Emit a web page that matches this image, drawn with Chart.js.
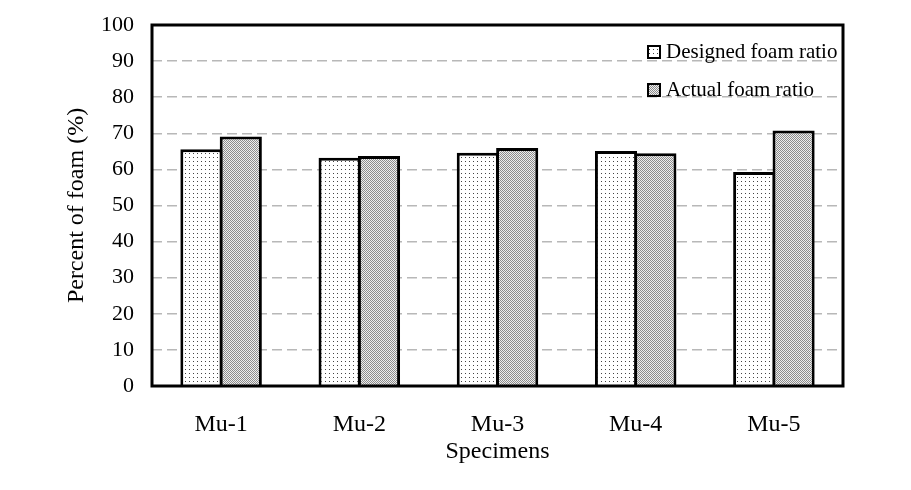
<!DOCTYPE html>
<html lang="en">
<head>
	<meta charset="UTF-8">
	<title>Foam ratio</title>
	<script src="https://cdn.jsdelivr.net/npm/chart.js"></script>
	<style>
		body { margin: 0; background: #fff; }
	</style>
</head>
<body>
	<canvas id="myChart" width="911" height="490"></canvas>

	<script>
		// data
		const specimens = ['Mu-1', 'Mu-2', 'Mu-3', 'Mu-4', 'Mu-5'];
		const designed = [65.6, 63.2, 64.6, 65.1, 59.3];
		const actual = [69.1, 63.7, 65.9, 64.5, 70.8];
		const seriesNames = ['Designed foam ratio', 'Actual foam ratio'];
		const yTicks = [0, 10, 20, 30, 40, 50, 60, 70, 80, 90, 100];

		const FAMILY = "'Liberation Serif', 'Times New Roman', serif";
		const ctx = document.getElementById('myChart');

		// fill patterns: sparse dots and dense gray stipple
		function dotPattern() {
			const c = document.createElement('canvas');
			c.width = 4; c.height = 4;
			const g = c.getContext('2d');
			g.fillStyle = '#fff';
			g.fillRect(0, 0, 4, 4);
			g.fillStyle = '#444';
			g.fillRect(1, 1, 1, 1);
			return ctx.getContext('2d').createPattern(c, 'repeat');
		}
		function grayPattern() {
			const c = document.createElement('canvas');
			c.width = 2; c.height = 2;
			const g = c.getContext('2d');
			g.fillStyle = '#eeeeee';
			g.fillRect(0, 0, 2, 2);
			g.fillStyle = '#8c8c8c';
			g.fillRect(0, 0, 1, 1);
			g.fillRect(1, 1, 1, 1);
			return ctx.getContext('2d').createPattern(c, 'repeat');
		}
		const fills = [dotPattern(), grayPattern()];

		// box round the plot and the legend inside it
		const framePlugin = {
			id: 'frame',
			afterDraw(chart) {
				const g = chart.ctx;
				const a = chart.chartArea;
				g.save();
				g.strokeStyle = '#000';
				g.lineWidth = 3;
				g.strokeRect(a.left, a.top, a.right - a.left, a.bottom - a.top);

				g.font = '21px ' + FAMILY;
				g.textBaseline = 'middle';
				seriesNames.forEach((name, i) => {
					const y = 52 + i * 38;
					g.fillStyle = fills[i];
					g.fillRect(648, y - 6, 12, 12);
					g.lineWidth = 2;
					g.strokeRect(648, y - 6, 12, 12);
					g.fillStyle = '#000';
					g.fillText(name, 666, y);
				});
				g.restore();
			}
		};

		new Chart(ctx, {
			type: 'bar',
			data: {
				labels: specimens,
				datasets: [{
					label: seriesNames[0],
					data: designed,
					backgroundColor: fills[0],
					borderColor: '#000',
					borderWidth: 3,
					categoryPercentage: 0.57,
					barPercentage: 1.07
				}, {
					label: seriesNames[1],
					data: actual,
					backgroundColor: fills[1],
					borderColor: '#000',
					borderWidth: 3,
					categoryPercentage: 0.57,
					barPercentage: 1.07
				}]
			},
			options: {
				responsive: false,
				animation: false,
				layout: { padding: { top: 25, right: 68, left: 0, bottom: 0 } },
				plugins: {
					legend: { display: false },
					tooltip: { enabled: false }
				},
				scales: {
					x: {
						afterFit(s) { s.height = 104; s.paddingLeft = 0; s.paddingRight = 0; },
						grid: { display: false, drawTicks: false },
						border: { display: false },
						ticks: { color: '#000', font: { family: FAMILY, size: 24 }, padding: 24 },
						title: {
							display: true, text: 'Specimens', color: '#000', font: { family: FAMILY, size: 24 },
							padding: { top: 0, bottom: 24 }
						}
					},
					y: {
						min: 0,
						max: 100,
						afterFit(s) { s.width = 152; s.paddingTop = 0; s.paddingBottom = 0; },
						afterBuildTicks(s) { s.ticks = yTicks.map(v => ({ value: v })); },
						grid: {
							drawTicks: false,
							color: c => (c.tick.value === 0 || c.tick.value === 100) ? 'rgba(0,0,0,0)' : '#b8b8b8',
							lineWidth: 1.5
						},
						border: { display: false, dash: [10, 5] },
						ticks: { color: '#000', font: { family: FAMILY, size: 22 }, padding: 18 },
						title: {
							display: true, text: 'Percent of foam (%)', color: '#000', font: { family: FAMILY, size: 24 },
							padding: { top: 62, bottom: 0 }
						}
					}
				}
			},
			plugins: [framePlugin]
		});
	</script>
</body>
</html>
